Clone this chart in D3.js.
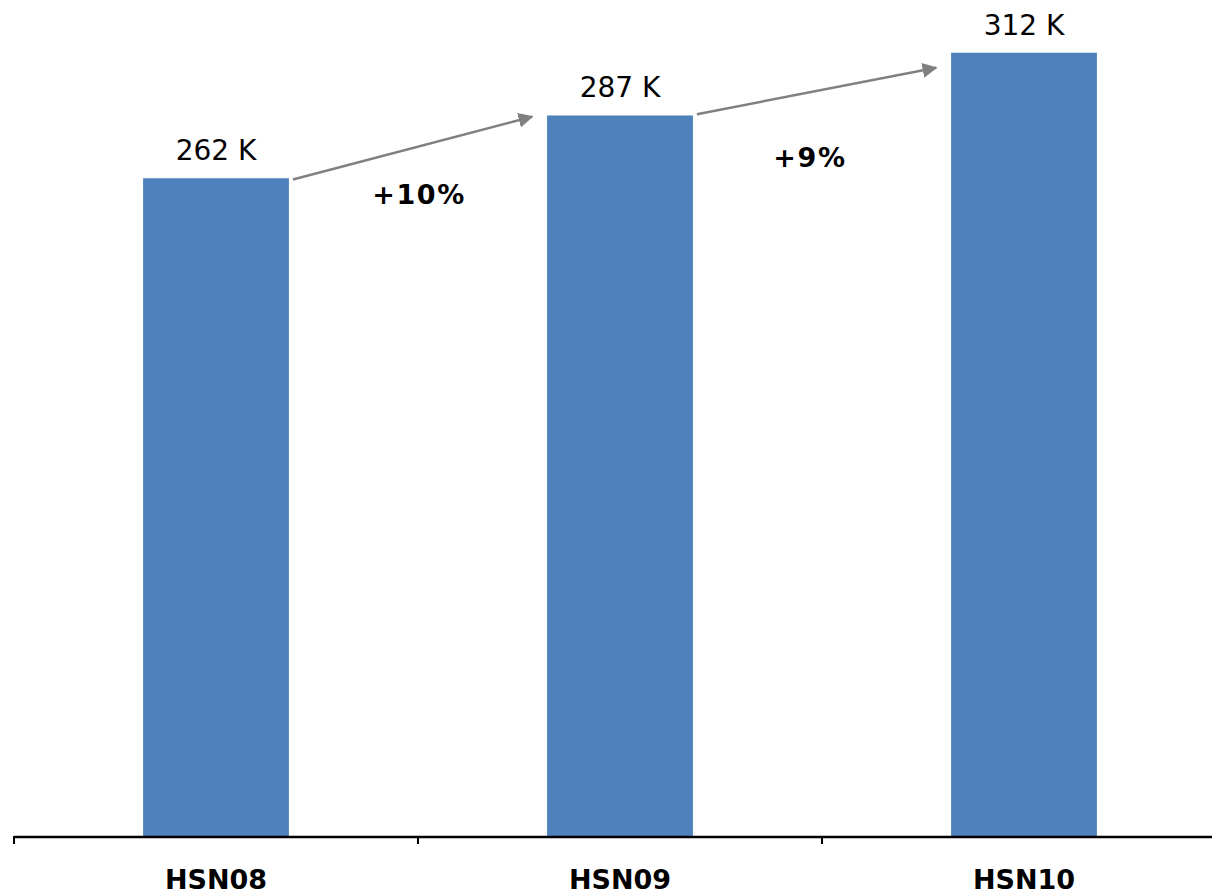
<!DOCTYPE html>
<html>
<head>
<meta charset="utf-8">
<script src="https://cdn.jsdelivr.net/npm/d3@7"></script>
<style>
  html, body { margin: 0; padding: 0; background: #fff; }
  svg { display: block; font-family: "DejaVu Sans", Verdana, sans-serif; }
</style>
</head>
<body>
<svg id="chart" width="1212" height="894"></svg>
<script>
// Visitors per edition (thousands)
const categories = ["HSN08", "HSN09", "HSN10"];
const values = [262, 287, 312];
const valueLabels = ["262 K", "287 K", "312 K"];

// Growth arrows between consecutive editions (start/end expressed in value units)
const growthLabels = ["+10%", "+9%"];
const arrowFrom = [261.5, 287.5];
const arrowTo = [286.5, 306];
const growthLabelLevel = [251.7, 266.4];

const svg = d3.select("#chart");
const baseline = 836;

const x = d3.scaleBand().domain(categories).range([14, 1226]).padding(0);
const y = d3.scaleLinear().domain([0, 333]).range([baseline, 0]);
const barW = x.bandwidth() * 0.361;

svg.append("defs").append("marker")
  .attr("id", "arrowhead")
  .attr("viewBox", "0 0 10 10")
  .attr("refX", 9).attr("refY", 5)
  .attr("markerWidth", 6).attr("markerHeight", 6)
  .attr("markerUnits", "strokeWidth")
  .attr("orient", "auto")
  .append("path").attr("d", "M0,0 L10,5 L0,10 Z").attr("fill", "#808080");

// Bars
svg.selectAll("rect.bar").data(values).join("rect")
  .attr("class", "bar")
  .attr("x", (d, i) => x(categories[i]) + x.bandwidth() / 2 - barW / 2)
  .attr("y", d => y(d))
  .attr("width", barW)
  .attr("height", d => baseline - y(d))
  .attr("fill", "#4F81BD");

// Value labels
svg.selectAll("text.val").data(values).join("text")
  .attr("class", "val")
  .attr("x", (d, i) => x(categories[i]) + x.bandwidth() / 2)
  .attr("y", d => y(d) - 18)
  .attr("text-anchor", "middle")
  .attr("font-size", 28)
  .attr("fill", "#000")
  .text((d, i) => valueLabels[i]);

// Growth arrows
growthLabels.forEach((g, i) => {
  const x0 = x(categories[i]) + x.bandwidth() / 2 + barW / 2 + 4;
  const x1 = x(categories[i + 1]) + x.bandwidth() / 2 - barW / 2 - 15;
  svg.append("line")
    .attr("x1", x0).attr("y1", y(arrowFrom[i]))
    .attr("x2", x1).attr("y2", y(arrowTo[i]))
    .attr("stroke", "#808080")
    .attr("stroke-width", 2.5)
    .attr("marker-end", "url(#arrowhead)");
});

const labelShift = [0, -13];
svg.selectAll("text.growth").data(growthLabels).join("text")
  .attr("class", "growth")
  .attr("x", (d, i) => x(categories[i + 1]) + labelShift[i] + 1)
  .attr("y", (d, i) => y(growthLabelLevel[i]))
  .attr("text-anchor", "middle")
  .attr("font-size", 27)
  .attr("font-weight", "bold")
  .attr("letter-spacing", 1.6)
  .attr("fill", "#000")
  .text(d => d);

// Category axis
svg.append("line")
  .attr("x1", 14).attr("x2", 1212)
  .attr("y1", baseline + 1).attr("y2", baseline + 1)
  .attr("stroke", "#000").attr("stroke-width", 2.5);

const tickPos = categories.map(c => x(c)).concat([x.range()[1]]);
svg.selectAll("line.tick").data(tickPos).join("line")
  .attr("class", "tick")
  .attr("x1", d => d).attr("x2", d => d)
  .attr("y1", baseline).attr("y2", baseline + 8)
  .attr("stroke", "#000").attr("stroke-width", 2);

svg.selectAll("text.cat").data(categories).join("text")
  .attr("class", "cat")
  .attr("x", d => x(d) + x.bandwidth() / 2)
  .attr("y", 889)
  .attr("text-anchor", "middle")
  .attr("font-size", 27)
  .attr("font-weight", "bold")
  .attr("fill", "#000")
  .text(d => d);
</script>
</body>
</html>
